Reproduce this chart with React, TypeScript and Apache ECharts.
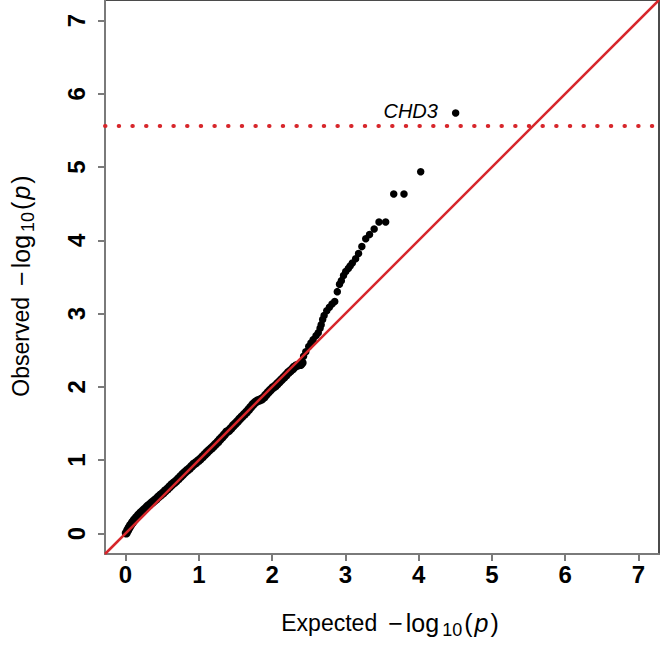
import React, { useEffect, useRef } from 'react';
import * as echarts from 'echarts';

// Expected -log10(p) (x) and observed -log10(p) (y)
const expected = [
  0.010, 0.030, 0.050, 0.070, 0.095, 0.120, 0.150, 0.180, 0.210, 0.240,
  0.270, 0.300, 0.330, 0.360, 0.390, 0.420, 0.450, 0.480, 0.510, 0.540,
  0.570, 0.600, 0.630, 0.660, 0.690, 0.720, 0.750, 0.780, 0.810, 0.840,
  0.870, 0.900, 0.930, 0.960, 0.990, 1.020, 1.050, 1.080, 1.110, 1.140,
  1.170, 1.200, 1.230, 1.260, 1.290, 1.320, 1.350, 1.380, 1.410, 1.440,
  1.470, 1.500, 1.530, 1.560, 1.590, 1.620, 1.650, 1.680, 1.710, 1.740,
  1.770, 1.800, 1.830, 1.860, 1.890, 1.920, 1.950, 1.980, 2.010, 2.040,
  2.070, 2.100, 2.130, 2.160, 2.190, 2.220, 2.250, 2.280, 2.300, 2.330,
  2.360, 2.390, 2.410, 2.430, 2.460, 2.500, 2.530, 2.560, 2.600, 2.630,
  2.655, 2.670, 2.690, 2.710, 2.746, 2.782, 2.818, 2.855, 2.890, 2.920,
  2.945, 2.975, 3.005, 3.040, 3.065, 3.095, 3.140, 3.180, 3.225, 3.278,
  3.330, 3.393, 3.459, 3.550, 3.660, 3.800, 4.028, 4.505,
];
const observed = [
  0.005, 0.045, 0.080, 0.115, 0.150, 0.185, 0.220, 0.255, 0.285, 0.310,
  0.340, 0.370, 0.395, 0.420, 0.445, 0.470, 0.500, 0.525, 0.550, 0.580,
  0.605, 0.635, 0.665, 0.690, 0.715, 0.745, 0.775, 0.805, 0.835, 0.860,
  0.885, 0.915, 0.945, 0.965, 0.990, 1.015, 1.045, 1.075, 1.105, 1.135,
  1.160, 1.190, 1.220, 1.250, 1.285, 1.315, 1.350, 1.385, 1.405, 1.435,
  1.470, 1.500, 1.530, 1.565, 1.595, 1.625, 1.655, 1.690, 1.725, 1.760,
  1.790, 1.810, 1.820, 1.835, 1.860, 1.895, 1.930, 1.960, 1.990, 2.010,
  2.040, 2.070, 2.100, 2.130, 2.160, 2.195, 2.220, 2.245, 2.270, 2.290,
  2.300, 2.305, 2.330, 2.420, 2.480, 2.550, 2.600, 2.645, 2.700, 2.740,
  2.800, 2.850, 2.920, 2.975, 3.040, 3.086, 3.130, 3.165, 3.300, 3.400,
  3.450, 3.520, 3.575, 3.615, 3.650, 3.690, 3.750, 3.820, 3.915, 4.023,
  4.080, 4.155, 4.250, 4.250, 4.633, 4.633, 4.937, 5.737,
];
const topHitLabel = 'CHD3';
const tickValues = [0, 1, 2, 3, 4, 5, 6, 7];
const axisMin = -0.28;
const axisMax = 7.28;
const threshold = 5.56;

const FONT = "'Liberation Sans', Arial, Helvetica, sans-serif";
const RED = '#D7262B';
const AXIS_GRAY = '#7a7a7a';

export default function App() {
  const ref = useRef<HTMLDivElement>(null);
  useEffect(() => {
    const chart = echarts.init(ref.current!, null, { renderer: 'svg' });
    const last = expected.length - 1;
    const data = expected.map((x, i) =>
      i === last
        ? {
            value: [x, observed[i]],
            label: {
              show: true,
              formatter: topHitLabel,
              position: 'left',
              distance: 14,
              offset: [0, -2],
              fontStyle: 'italic',
              fontSize: 20,
              fontFamily: FONT,
              color: '#000',
            },
          }
        : [x, observed[i]]
    );
    const axisCommon = {
      type: 'value',
      min: axisMin,
      max: axisMax,
      splitLine: { show: false },
      axisLine: { show: true, onZero: false, lineStyle: { color: AXIS_GRAY, width: 2 } },
      axisTick: {
        show: true,
        inside: false,
        customValues: tickValues,
        length: 7,
        lineStyle: { color: AXIS_GRAY, width: 2 },
      },
    };
    const nameRich = {
      e: { fontSize: 23, fontFamily: FONT, color: '#000' },
      m: { fontSize: 25, fontFamily: FONT, color: '#000', padding: [0, 3, 0, 11] },
      l: { fontSize: 25, fontFamily: FONT, color: '#000', padding: [0, 2, 0, 0] },
      n: { fontSize: 25, fontFamily: FONT, color: '#000' },
      s: { fontSize: 18, fontFamily: FONT, color: '#000', padding: [13, 2, 0, 1] },
      p: { fontSize: 25, fontFamily: FONT, fontStyle: 'italic', color: '#000', padding: [0, 2, 0, 2] },
    };
    const nameText = (w: string) => `{e|${w}}{m|\u2212}{l|log}{s|10}{n|(}{p|p}{n|)}`;
    chart.setOption({
      animation: false,
      backgroundColor: '#fff',
      grid: {
        left: 105,
        top: 0,
        width: 554,
        height: 554,
        show: true,
        borderColor: '#111',
        borderWidth: 1.5,
        backgroundColor: 'transparent',
      },
      xAxis: {
        ...axisCommon,
        axisLabel: {
          customValues: tickValues,
          fontSize: 24,
          fontWeight: 'bold',
          fontFamily: FONT,
          color: '#000',
          margin: 8,
        },
      },
      yAxis: {
        ...axisCommon,
        axisLabel: {
          customValues: tickValues,
          fontSize: 24,
          fontWeight: 'bold',
          fontFamily: FONT,
          color: '#000',
          margin: 17,
          rotate: 90,
        },
      },
      graphic: [
        {
          type: 'text',
          x: 390,
          y: 623,
          style: {
            text: nameText('Expected'),
            rich: nameRich,
            align: 'center',
            verticalAlign: 'middle',
          },
        },
        {
          type: 'text',
          x: 21,
          y: 286,
          rotation: Math.PI / 2,
          style: {
            text: nameText('Observed'),
            rich: nameRich,
            align: 'center',
            verticalAlign: 'middle',
          },
        },
      ],
      series: [
        {
          type: 'scatter',
          data,
          symbol: 'circle',
          symbolSize: (v: number[]) => (v[0] < 2.42 ? 9 : 7.5),
          itemStyle: { color: '#000', opacity: 1 },
          label: { show: false },
          z: 2,
          silent: true,
        },
        {
          type: 'line',
          data: [
            [axisMin, axisMin],
            [axisMax, axisMax],
          ],
          symbol: 'none',
          lineStyle: { color: RED, width: 2.5 },
          z: 3,
          silent: true,
        },
        {
          type: 'line',
          data: [
            [axisMin, threshold],
            [axisMax, threshold],
          ],
          symbol: 'none',
          lineStyle: { color: RED, width: 4, type: [0.5, 13.17], cap: 'round' },
          z: 3,
          silent: true,
        },
      ],
    });
    return () => chart.dispose();
  }, []);
  return (
    <div
      ref={ref}
      style={{ position: 'fixed', left: 0, top: 0, width: 660, height: 646 }}
    />
  );
}
